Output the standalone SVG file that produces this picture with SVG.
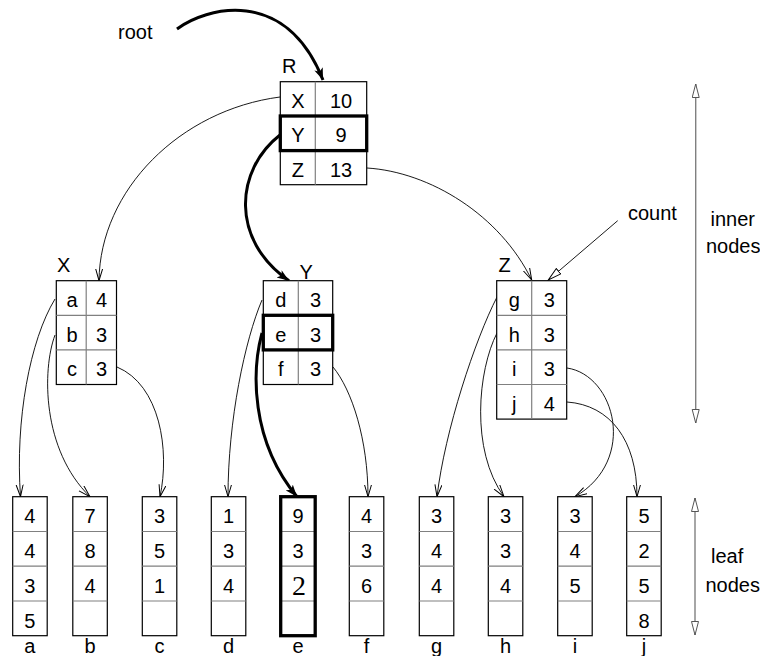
<svg xmlns="http://www.w3.org/2000/svg" width="760" height="656" viewBox="0 0 760 656">
<defs>
<style>
text{font-family:"Liberation Sans",Arial,Helvetica,sans-serif;font-size:20px;fill:#000}
.c{text-anchor:middle}
.box{fill:#fff;stroke:#000;stroke-width:1.2}
.div{stroke:#808080;stroke-width:1.2;fill:none}
.bold{fill:none;stroke:#000;stroke-width:3.3}
.thin{fill:none;stroke:#000;stroke-width:0.9}
.thick{fill:none;stroke:#000;stroke-width:3}
.scale{fill:none;stroke:#808080;stroke-width:1.4}
.serif{font-family:"Liberation Serif","Times New Roman",serif;font-size:28px}
</style>
<marker id="vee" markerUnits="userSpaceOnUse" markerWidth="14" markerHeight="10" refX="12" refY="4" orient="auto">
<path d="M0,0.5 L12,4 L0,7.5" fill="none" stroke="#000" stroke-width="1"/>
</marker>
<marker id="fill" markerUnits="userSpaceOnUse" markerWidth="14" markerHeight="10" refX="12" refY="4.5" orient="auto">
<path d="M0,0 L12,4.5 L0,9 L3,4.5 Z" fill="#000"/>
</marker>
<marker id="tri" markerUnits="userSpaceOnUse" markerWidth="16" markerHeight="10" refX="14" refY="4" orient="auto-start-reverse">
<path d="M0.5,0.5 L14,4 L0.5,7.5 Z" fill="#fff" stroke="#000" stroke-width="1"/>
</marker>
<marker id="triG" markerUnits="userSpaceOnUse" markerWidth="16" markerHeight="10" refX="14" refY="4" orient="auto-start-reverse">
<path d="M0.5,0.5 L14,4 L0.5,7.5 Z" fill="#fff" stroke="#555" stroke-width="1"/>
</marker>
</defs>
<rect width="760" height="656" fill="#fff"/>

<!-- connectors -->
<g id="connectors">
<path class="thick" d="M177,29 C205,8 285,-15 323,80" marker-end="url(#fill)"/>
<text x="118" y="39">root</text>
<path class="thin" d="M280,97 C180,110 100,190 99,280.7" marker-end="url(#vee)"/>
<path class="thick" d="M280,135 C235,170 230,240 289,280.7" marker-end="url(#fill)"/>
<path class="thin" d="M367,168 C430,172 500,215 531.7,280" marker-end="url(#vee)"/>
<path class="thin" d="M617.7,220.7 L548.3,280" marker-end="url(#tri)"/>
<path class="thin" d="M55,299 C30,340 15,420 20.5,496.7" marker-end="url(#vee)"/>
<path class="thin" d="M55,335 C42,370 42,450 90,496.7" marker-end="url(#vee)"/>
<path class="thin" d="M117,367 C160,385 170,450 160,496.7" marker-end="url(#vee)"/>
<path class="thin" d="M262,300 C245,340 228,420 228,496.7" marker-end="url(#vee)"/>
<path class="thick" d="M262,333 C252,370 250,440 297,496.7" marker-end="url(#fill)"/>
<path class="thin" d="M333,367 C352,390 368,440 368,496.7" marker-end="url(#vee)"/>
<path class="thin" d="M497,297 C475,340 445,430 437,496.7" marker-end="url(#vee)"/>
<path class="thin" d="M497,333 C478,370 470,450 504,496.7" marker-end="url(#vee)"/>
<path class="thin" d="M567,368 C615,375 638,460 575,496.7" marker-end="url(#vee)"/>
<path class="thin" d="M567,402 C610,405 637,440 637,496.7" marker-end="url(#vee)"/>
<path class="scale" d="M695.7,84 L695.7,423" marker-start="url(#triG)" marker-end="url(#triG)"/>
<path class="scale" d="M695,498 L695,635" marker-start="url(#triG)" marker-end="url(#triG)"/>
</g>

<text x="628" y="220">count</text>
<text x="710.5" y="225.7">inner</text>
<text x="706" y="253">nodes</text>
<text x="711" y="563">leaf</text>
<text x="705.5" y="591.7">nodes</text>

<!-- R -->
<g id="node-R">
<text x="282" y="73">R</text>
<rect class="box" x="280.3" y="81.7" width="86.4" height="103"/>
<path class="div" d="M315.3,81.7 V184.7 M280.3,116 H366.7 M280.3,150.6 H366.7"/>
<rect class="bold" x="280.3" y="116" width="86.4" height="34.6"/>
<text class="c" x="297.8" y="108">X</text><text class="c" x="341" y="108">10</text>
<text class="c" x="297.8" y="142.3">Y</text><text class="c" x="341" y="142.3">9</text>
<text class="c" x="297.8" y="176.7">Z</text><text class="c" x="341" y="176.7">13</text>
</g>

<!-- X -->
<g id="node-X">
<text x="57" y="271.5">X</text>
<rect class="box" x="56.3" y="280.7" width="60.2" height="103.8"/>
<path class="div" d="M86.2,280.7 V384.5 M56.3,315.3 H116.5 M56.3,349.9 H116.5"/>
<text class="c" x="72" y="307.2">a</text><text class="c" x="101.5" y="307.2">4</text>
<text class="c" x="72" y="341.8">b</text><text class="c" x="101.5" y="341.8">3</text>
<text class="c" x="72" y="376.4">c</text><text class="c" x="101.5" y="376.4">3</text>
</g>

<!-- Y -->
<g id="node-Y">
<text x="299.5" y="278.5">Y</text>
<rect class="box" x="263.3" y="280.7" width="69.4" height="103.8"/>
<path class="div" d="M298.3,280.7 V384.5 M263.3,315.3 H332.7 M263.3,349.9 H332.7"/>
<rect class="bold" x="263.3" y="315.3" width="69.4" height="34.6"/>
<text class="c" x="280.8" y="307.2">d</text><text class="c" x="315.5" y="307.2">3</text>
<text class="c" x="280.8" y="341.8">e</text><text class="c" x="315.5" y="341.8">3</text>
<text class="c" x="280.8" y="376.4">f</text><text class="c" x="315.5" y="376.4">3</text>
</g>

<!-- Z -->
<g id="node-Z">
<text x="498.5" y="272">Z</text>
<rect class="box" x="496.7" y="280.7" width="70" height="138.4"/>
<path class="div" d="M531.7,280.7 V419.1 M496.7,315.3 H566.7 M496.7,349.9 H566.7 M496.7,384.5 H566.7"/>
<text class="c" x="514.2" y="307.2">g</text><text class="c" x="549.2" y="307.2">3</text>
<text class="c" x="514.2" y="341.8">h</text><text class="c" x="549.2" y="341.8">3</text>
<text class="c" x="514.2" y="376.4">i</text><text class="c" x="549.2" y="376.4">3</text>
<text class="c" x="514.2" y="411">j</text><text class="c" x="549.2" y="411">4</text>
</g>

<!-- leaves -->
<g id="leaf-a">
<rect class="box" x="12.7" y="496.7" width="34.5" height="139"/>
<path class="div" d="M12.7,531.5 H47.2 M12.7,566.2 H47.2 M12.7,601 H47.2"/>
<text class="c" x="29.9" y="523.2">4</text><text class="c" x="29.9" y="558">4</text><text class="c" x="29.9" y="592.7">3</text><text class="c" x="29.9" y="627.5">5</text>
<text class="c" x="29.9" y="653">a</text>
</g>
<g id="leaf-b">
<rect class="box" x="72.8" y="496.7" width="34.5" height="139"/>
<path class="div" d="M72.8,531.5 H107.3 M72.8,566.2 H107.3 M72.8,601 H107.3"/>
<text class="c" x="90" y="523.2">7</text><text class="c" x="90" y="558">8</text><text class="c" x="90" y="592.7">4</text>
<text class="c" x="90" y="653">b</text>
</g>
<g id="leaf-c">
<rect class="box" x="142.3" y="496.7" width="34.5" height="139"/>
<path class="div" d="M142.3,531.5 H176.8 M142.3,566.2 H176.8 M142.3,601 H176.8"/>
<text class="c" x="159.5" y="523.2">3</text><text class="c" x="159.5" y="558">5</text><text class="c" x="159.5" y="592.7">1</text>
<text class="c" x="159.5" y="653">c</text>
</g>
<g id="leaf-d">
<rect class="box" x="211.3" y="496.7" width="34.5" height="139"/>
<path class="div" d="M211.3,531.5 H245.8 M211.3,566.2 H245.8 M211.3,601 H245.8"/>
<text class="c" x="228.5" y="523.2">1</text><text class="c" x="228.5" y="558">3</text><text class="c" x="228.5" y="592.7">4</text>
<text class="c" x="228.5" y="653">d</text>
</g>
<g id="leaf-e">
<rect class="box" x="280.7" y="496.7" width="34.5" height="139"/>
<path class="div" d="M280.7,531.5 H315.2 M280.7,566.2 H315.2 M280.7,601 H315.2"/>
<rect class="bold" x="280.7" y="496.7" width="34.5" height="139"/>
<text class="c" x="298" y="523.2">9</text><text class="c" x="298" y="558">3</text><text class="c serif" x="299" y="595">2</text>
<text class="c" x="298" y="653">e</text>
</g>
<g id="leaf-f">
<rect class="box" x="349.3" y="496.7" width="34.5" height="139"/>
<path class="div" d="M349.3,531.5 H383.8 M349.3,566.2 H383.8 M349.3,601 H383.8"/>
<text class="c" x="366.5" y="523.2">4</text><text class="c" x="366.5" y="558">3</text><text class="c" x="366.5" y="592.7">6</text>
<text class="c" x="366.5" y="653">f</text>
</g>
<g id="leaf-g">
<rect class="box" x="419.3" y="496.7" width="34.5" height="139"/>
<path class="div" d="M419.3,531.5 H453.8 M419.3,566.2 H453.8 M419.3,601 H453.8"/>
<text class="c" x="436.5" y="523.2">3</text><text class="c" x="436.5" y="558">4</text><text class="c" x="436.5" y="592.7">4</text>
<text class="c" x="436.5" y="653">g</text>
</g>
<g id="leaf-h">
<rect class="box" x="488.3" y="496.7" width="34.5" height="139"/>
<path class="div" d="M488.3,531.5 H522.8 M488.3,566.2 H522.8 M488.3,601 H522.8"/>
<text class="c" x="505.5" y="523.2">3</text><text class="c" x="505.5" y="558">3</text><text class="c" x="505.5" y="592.7">4</text>
<text class="c" x="505.5" y="653">h</text>
</g>
<g id="leaf-i">
<rect class="box" x="557.7" y="496.7" width="34.5" height="139"/>
<path class="div" d="M557.7,531.5 H592.2 M557.7,566.2 H592.2 M557.7,601 H592.2"/>
<text class="c" x="575" y="523.2">3</text><text class="c" x="575" y="558">4</text><text class="c" x="575" y="592.7">5</text>
<text class="c" x="575" y="653">i</text>
</g>
<g id="leaf-j">
<rect class="box" x="626.7" y="496.7" width="34.5" height="139"/>
<path class="div" d="M626.7,531.5 H661.2 M626.7,566.2 H661.2 M626.7,601 H661.2"/>
<text class="c" x="644" y="523.2">5</text><text class="c" x="644" y="558">2</text><text class="c" x="644" y="592.7">5</text><text class="c" x="644" y="627.5">8</text>
<text class="c" x="644" y="653">j</text>
</g>
</svg>
